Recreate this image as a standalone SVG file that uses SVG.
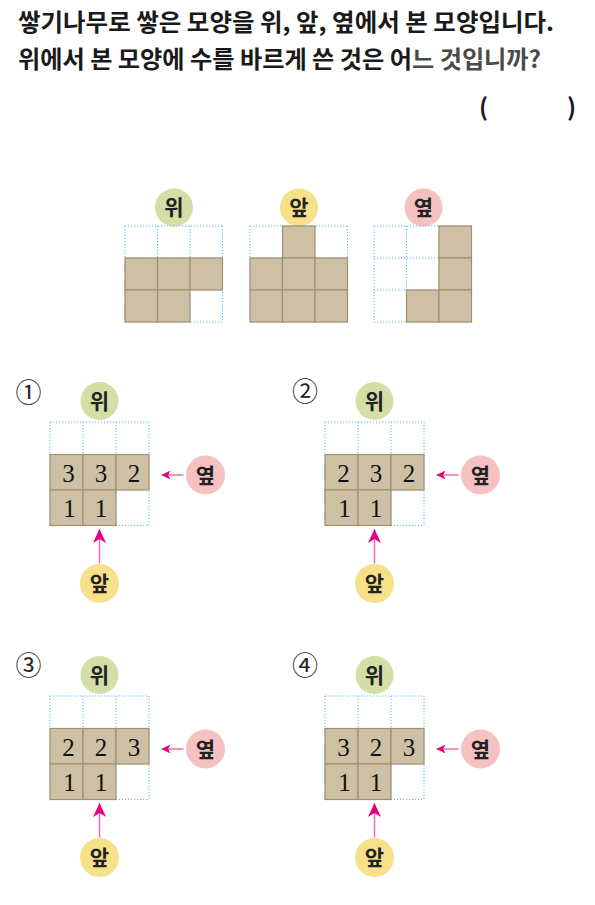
<svg xmlns="http://www.w3.org/2000/svg" width="595" height="905" viewBox="0 0 595 905">
<style>
.title{font-family:"Noto Sans CJK KR","Noto Sans",sans-serif;font-size:24px;font-weight:700;fill:#1a1a1a}
.grid{stroke:#5ab9ea;stroke-width:1;stroke-dasharray:1.2 1.8;fill:none}
.cell{fill:#cdc0a5;stroke:#a0916e;stroke-width:1.2}
.lbl{font-family:"Noto Sans CJK KR",sans-serif;font-size:21px;font-weight:700;fill:#222;text-anchor:middle}
.top{fill:#d3dfa7}
.front{fill:#f6e08a}
.side{fill:#f5c1c1}
.num{font-family:"Liberation Serif","DejaVu Serif",serif;font-size:25px;fill:#111;text-anchor:middle}
.circ{font-family:"Noto Sans CJK KR","DejaVu Sans",sans-serif;font-size:26px;fill:#222;text-anchor:middle}
.shaft{stroke:#f06aae;stroke-width:1.5;fill:none}
</style>
<defs>
<marker id="headBig" viewBox="-14 -7 14 14" markerWidth="14" markerHeight="14" refX="0" refY="0" orient="auto" markerUnits="userSpaceOnUse">
<path d="M0,0 L-14,-6.5 L-10,0 L-14,6.5 Z" fill="#e4007f"/>
</marker>
<marker id="headSmall" viewBox="-9 -5 9 10" markerWidth="9" markerHeight="10" refX="0" refY="0" orient="auto" markerUnits="userSpaceOnUse">
<path d="M0,0 L-9,-4.5 L-6.5,0 L-9,4.5 Z" fill="#e4007f"/>
</marker>
<g id="optGrid">
<path class="grid" d="M50,422 H149 M50,454.5 H149 M50,490 H149 M50,525.5 H149 M50,422 V525.5 M83,422 V525.5 M116,422 V525.5 M149,422 V525.5"/>
<rect class="cell" x="50" y="454.5" width="33" height="35.5"/>
<rect class="cell" x="83" y="454.5" width="33" height="35.5"/>
<rect class="cell" x="116" y="454.5" width="33" height="35.5"/>
<rect class="cell" x="50" y="490" width="33" height="35.5"/>
<rect class="cell" x="83" y="490" width="33" height="35.5"/>
</g>
</defs>

<g id="title">
<text class="title" x="18" y="31" textLength="536" lengthAdjust="spacingAndGlyphs">쌓기나무로 쌓은 모양을 위, 앞, 옆에서 본 모양입니다.</text>
<text class="title" x="18" y="68" textLength="523" lengthAdjust="spacingAndGlyphs">위에서 본 모양에 수를 바르게 쓴 것은 어<tspan fill="#4a4a4a">느 것입니까?</tspan></text>
<text class="title" x="479" y="116">(</text>
<text class="title" x="567" y="116">)</text>
</g>

<g id="view-top">
<circle class="top" cx="174" cy="207.5" r="19"/>
<text class="lbl" x="174" y="215">위</text>
<path class="grid" d="M125,226 H222.5 M125,258 H222.5 M125,290 H222.5 M125,322 H222.5 M125,226 V322 M157.5,226 V322 M190,226 V322 M222.5,226 V322"/>
<rect class="cell" x="125" y="258" width="32.5" height="32"/>
<rect class="cell" x="157.5" y="258" width="32.5" height="32"/>
<rect class="cell" x="190" y="258" width="32.5" height="32"/>
<rect class="cell" x="125" y="290" width="32.5" height="32"/>
<rect class="cell" x="157.5" y="290" width="32.5" height="32"/>
</g>

<g id="view-front">
<circle class="front" cx="299" cy="207.5" r="19"/>
<text class="lbl" x="299" y="215">앞</text>
<path class="grid" d="M250,226 H347.5 M250,258 H347.5 M250,290 H347.5 M250,322 H347.5 M250,226 V322 M282.5,226 V322 M315,226 V322 M347.5,226 V322"/>
<rect class="cell" x="282.5" y="226" width="32.5" height="32"/>
<rect class="cell" x="250" y="258" width="32.5" height="32"/>
<rect class="cell" x="282.5" y="258" width="32.5" height="32"/>
<rect class="cell" x="315" y="258" width="32.5" height="32"/>
<rect class="cell" x="250" y="290" width="32.5" height="32"/>
<rect class="cell" x="282.5" y="290" width="32.5" height="32"/>
<rect class="cell" x="315" y="290" width="32.5" height="32"/>
</g>

<g id="view-side">
<circle class="side" cx="423.5" cy="207.5" r="19"/>
<text class="lbl" x="423.5" y="215">옆</text>
<path class="grid" d="M374,226 H471.5 M374,258 H471.5 M374,290 H471.5 M374,322 H471.5 M374,226 V322 M406.5,226 V322 M439,226 V322 M471.5,226 V322"/>
<rect class="cell" x="439" y="226" width="32.5" height="32"/>
<rect class="cell" x="439" y="258" width="32.5" height="32"/>
<rect class="cell" x="406.5" y="290" width="32.5" height="32"/>
<rect class="cell" x="439" y="290" width="32.5" height="32"/>
</g>

<g id="option-1">
<text class="circ" x="28.5" y="402">①</text>
<circle class="top" cx="99.5" cy="401" r="19"/>
<text class="lbl" x="99.5" y="408.5">위</text>
<use href="#optGrid"/>
<text class="num" x="68.5" y="481.5">3</text>
<text class="num" x="101" y="481.5">3</text>
<text class="num" x="134" y="481.5">2</text>
<text class="num" x="69.5" y="517">1</text>
<text class="num" x="101" y="517">1</text>
<circle class="side" cx="205.5" cy="475" r="19.5"/>
<text class="lbl" x="205.5" y="482.5">옆</text>
<circle class="front" cx="99.5" cy="583.5" r="19.5"/>
<text class="lbl" x="99.5" y="591">앞</text>
</g>

<g id="option-2" transform="translate(275,0)">
<text class="circ" x="30" y="401">②</text>
<circle class="top" cx="99.5" cy="401" r="19"/>
<text class="lbl" x="99.5" y="408.5">위</text>
<use href="#optGrid"/>
<text class="num" x="68.5" y="481.5">2</text>
<text class="num" x="101" y="481.5">3</text>
<text class="num" x="134" y="481.5">2</text>
<text class="num" x="69.5" y="517">1</text>
<text class="num" x="101" y="517">1</text>
<circle class="side" cx="205.5" cy="475" r="19.5"/>
<text class="lbl" x="205.5" y="482.5">옆</text>
<circle class="front" cx="99.5" cy="583.5" r="19.5"/>
<text class="lbl" x="99.5" y="591">앞</text>
</g>

<g id="option-3" transform="translate(0,274)">
<text class="circ" x="28.5" y="401">③</text>
<circle class="top" cx="99.5" cy="401" r="19"/>
<text class="lbl" x="99.5" y="408.5">위</text>
<use href="#optGrid"/>
<text class="num" x="68.5" y="481.5">2</text>
<text class="num" x="101" y="481.5">2</text>
<text class="num" x="134" y="481.5">3</text>
<text class="num" x="69.5" y="517">1</text>
<text class="num" x="101" y="517">1</text>
<circle class="side" cx="205.5" cy="475" r="19.5"/>
<text class="lbl" x="205.5" y="482.5">옆</text>
<circle class="front" cx="99.5" cy="583.5" r="19.5"/>
<text class="lbl" x="99.5" y="591">앞</text>
</g>

<g id="option-4" transform="translate(275,274)">
<text class="circ" x="30" y="401">④</text>
<circle class="top" cx="99.5" cy="401" r="19"/>
<text class="lbl" x="99.5" y="408.5">위</text>
<use href="#optGrid"/>
<text class="num" x="68.5" y="481.5">3</text>
<text class="num" x="101" y="481.5">2</text>
<text class="num" x="134" y="481.5">3</text>
<text class="num" x="69.5" y="517">1</text>
<text class="num" x="101" y="517">1</text>
<circle class="side" cx="205.5" cy="475" r="19.5"/>
<text class="lbl" x="205.5" y="482.5">옆</text>
<circle class="front" cx="99.5" cy="583.5" r="19.5"/>
<text class="lbl" x="99.5" y="591">앞</text>
</g>

<g id="connectors">
<line class="shaft" x1="183.5" y1="475" x2="161.5" y2="475" marker-end="url(#headSmall)"/>
<line class="shaft" x1="99.5" y1="563.5" x2="99.5" y2="529" marker-end="url(#headBig)"/>
<line class="shaft" x1="458.5" y1="475" x2="436.5" y2="475" marker-end="url(#headSmall)"/>
<line class="shaft" x1="374.5" y1="563.5" x2="374.5" y2="529" marker-end="url(#headBig)"/>
<line class="shaft" x1="183.5" y1="749" x2="161.5" y2="749" marker-end="url(#headSmall)"/>
<line class="shaft" x1="99.5" y1="837.5" x2="99.5" y2="803" marker-end="url(#headBig)"/>
<line class="shaft" x1="458.5" y1="749" x2="436.5" y2="749" marker-end="url(#headSmall)"/>
<line class="shaft" x1="374.5" y1="837.5" x2="374.5" y2="803" marker-end="url(#headBig)"/>
</g>
</svg>
